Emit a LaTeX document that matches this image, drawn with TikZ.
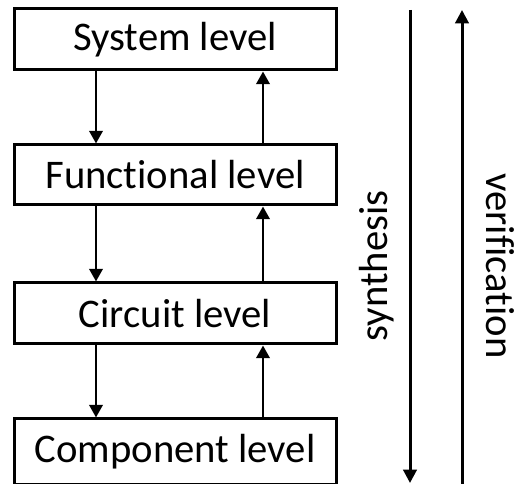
\documentclass[tikz,border=0pt]{standalone}
\usepackage{fontspec}
\setmainfont[Ligatures={NoCommon}]{Carlito}
\usetikzlibrary{arrows.meta}
\begin{document}
\begin{tikzpicture}[x=0.75pt,y=-0.75pt,
  lvl/.style={draw=black, line width=2.25pt, rectangle, minimum width=241.5pt, inner sep=0pt,
    font=\fontsize{30.5}{36}\selectfont, text=black},
  arr/.style={line width=2pt, -{Triangle[width=10pt,length=9.5pt]}},
  longarr/.style={line width=2.25pt, -{Triangle[width=10pt,length=10pt]}},
  lbl/.style={font=\fontsize{30.5}{36}\selectfont, text=black, inner sep=0pt}]
\useasboundingbox (0,0) rectangle (518,484);
\clip (0,0) rectangle (518,484);
\node[lvl, minimum height=45.75pt] (sys) at (175,39.5) {System level};
\node[lvl, minimum height=45pt] (fun) at (175,175) {Functional level};
\node[lvl, minimum height=45.75pt] (cir) at (175,313.5) {Circuit level};
\node[lvl, minimum height=49.5pt] (com) at (175,452) {Component level};
\coordinate (dx) at (96,0);
\coordinate (ux) at (263,0);
\draw[arr] (sys.south -| dx) -- (fun.north -| dx);
\draw[arr] (fun.north -| ux) -- (sys.south -| ux);
\draw[arr] (fun.south -| dx) -- (cir.north -| dx);
\draw[arr] (cir.north -| ux) -- (fun.south -| ux);
\draw[arr] (cir.south -| dx) -- (com.north -| dx);
\draw[arr] (com.north -| ux) -- (cir.south -| ux);
\coordinate (s1) at (410,10);
\coordinate (s2) at (410,483);
\coordinate (v1) at (462,490);
\coordinate (v2) at (462,10);
\draw[longarr] (s1) -- (s2);
\draw[longarr] (v1) -- (v2);
\node[lbl, rotate=90] (syn) at (377,266) {synthesis};
\node[lbl, rotate=-90] (ver) at (500,266) {verification};
\end{tikzpicture}
\end{document}
